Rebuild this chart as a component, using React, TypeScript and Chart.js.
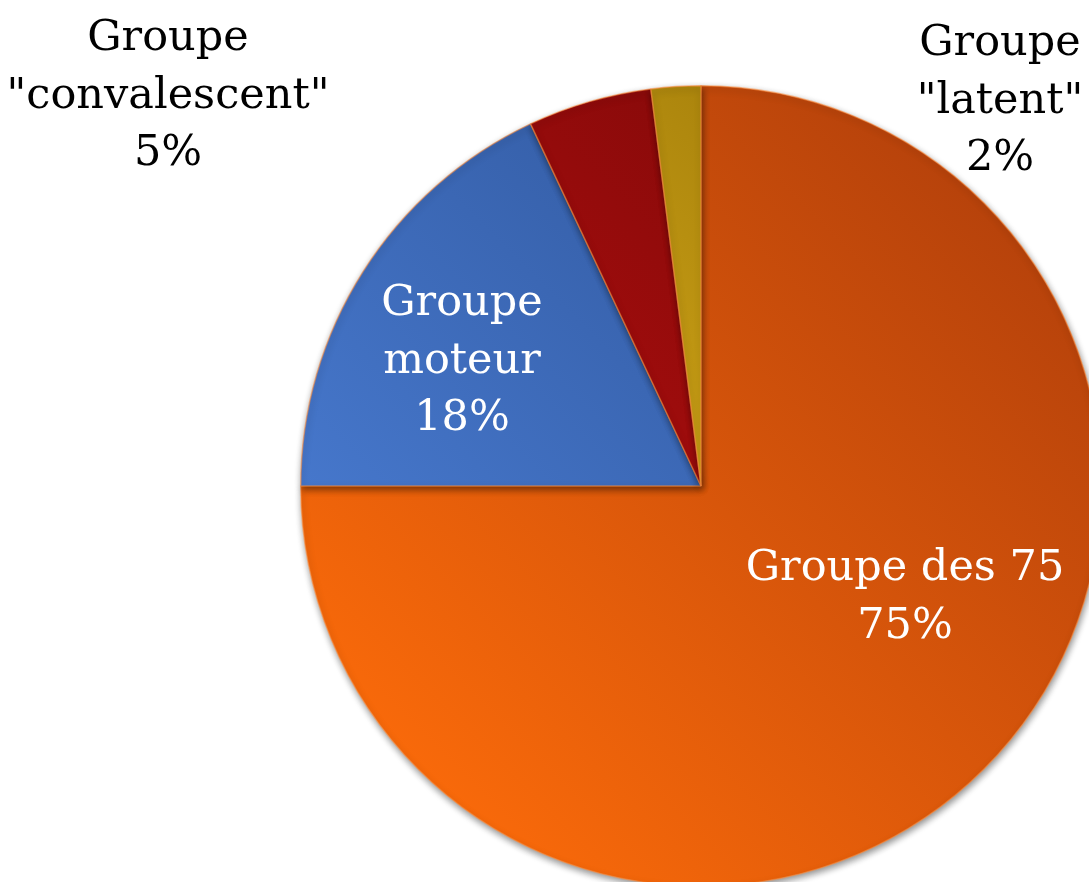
import React, { useEffect, useRef } from "react";
import { Chart, registerables } from "chart.js";

Chart.register(...registerables);

const categories = ["Groupe des 75", 'Groupe moteur', 'Groupe "convalescent"', 'Groupe "latent"'];
const values = [75, 18, 5, 2];
const percentLabels = ["75%", "18%", "5%", "2%"];
const labelLines = [
  ["Groupe des 75", "75%"],
  ["Groupe", "moteur", "18%"],
  ["Groupe", '"convalescent"', "5%"],
  ["Groupe", '"latent"', "2%"],
];

// light (bottom-left) and dark (top-right) shades per slice
const lightColors = ["#F8690A", "#4A7DD4", "#C01010", "#F0C020"];
const darkColors = ["#B3400B", "#2C5194", "#7A0808", "#9A7608"];

const W = 1200;
const H = 1000;

export default function App() {
  const ref = useRef<HTMLCanvasElement | null>(null);
  useEffect(() => {
    const canvas = ref.current;
    if (!canvas) return;

    const labelPlugin = {
      id: "sliceLabels",
      afterDatasetsDraw(chart: any) {
        const ctx = chart.ctx;
        const meta = chart.getDatasetMeta(0);
        const arc = meta.data[0];
        const cx = arc.x;
        const cy = arc.y;
        // anchor (center x, first baseline) relative to pie centre, plus colour
        const anchors = [
          { dx: 204, dy: 94, color: "#ffffff" },
          { dx: -239, dy: -171, color: "#ffffff" },
          { dx: -533, dy: -436, color: "#000000" },
          { dx: 299, dy: -431, color: "#000000" },
        ];
        ctx.save();
        ctx.font = '43px "DejaVu Serif", serif';
        ctx.textAlign = "center";
        ctx.textBaseline = "alphabetic";
        labelLines.forEach((lines, i) => {
          const a = anchors[i];
          ctx.fillStyle = a.color;
          lines.forEach((ln, j) => {
            ctx.fillText(ln, cx + a.dx, cy + a.dy + j * 57.5);
          });
        });
        ctx.restore();
      },
    };

    const shadowPlugin = {
      id: "pieShadow",
      beforeDatasetsDraw(chart: any) {
        const ctx = chart.ctx;
        ctx.save();
        ctx.shadowColor = "rgba(0,0,0,0.45)";
        ctx.shadowBlur = 7;
        ctx.shadowOffsetX = 1;
        ctx.shadowOffsetY = 3;
      },
      afterDatasetsDraw(chart: any) {
        chart.ctx.restore();
      },
    };

    const chart = new Chart(canvas, {
      type: "pie",
      data: {
        labels: categories,
        datasets: [
          {
            data: values,
            backgroundColor: (c: any) => {
              const i = c.dataIndex;
              const area = c.chart.chartArea;
              if (!area) return lightColors[i];
              const g = c.chart.ctx.createLinearGradient(area.left, area.bottom, area.right, area.top);
              g.addColorStop(0.15, lightColors[i]);
              g.addColorStop(0.9, darkColors[i]);
              return g;
            },
            borderColor: "rgba(255,140,60,0.55)",
            borderWidth: 1.5,
            hoverOffset: 0,
          },
        ],
      },
      options: {
        responsive: false,
        animation: false,
        events: [],
        layout: { padding: { left: 300, top: 85, right: W - 1102, bottom: H - 887 } },
        plugins: {
          legend: { display: false },
          tooltip: { enabled: false },
        },
      },
      plugins: [shadowPlugin, labelPlugin],
    });
    return () => chart.destroy();
  }, []);

  return (
    <div style={{ position: "fixed", left: 0, top: 0, width: 1089, height: 882, overflow: "hidden", background: "#fff" }}>
      <canvas ref={ref} width={W} height={H} style={{ display: "block", width: W, height: H }} />
    </div>
  );
}
